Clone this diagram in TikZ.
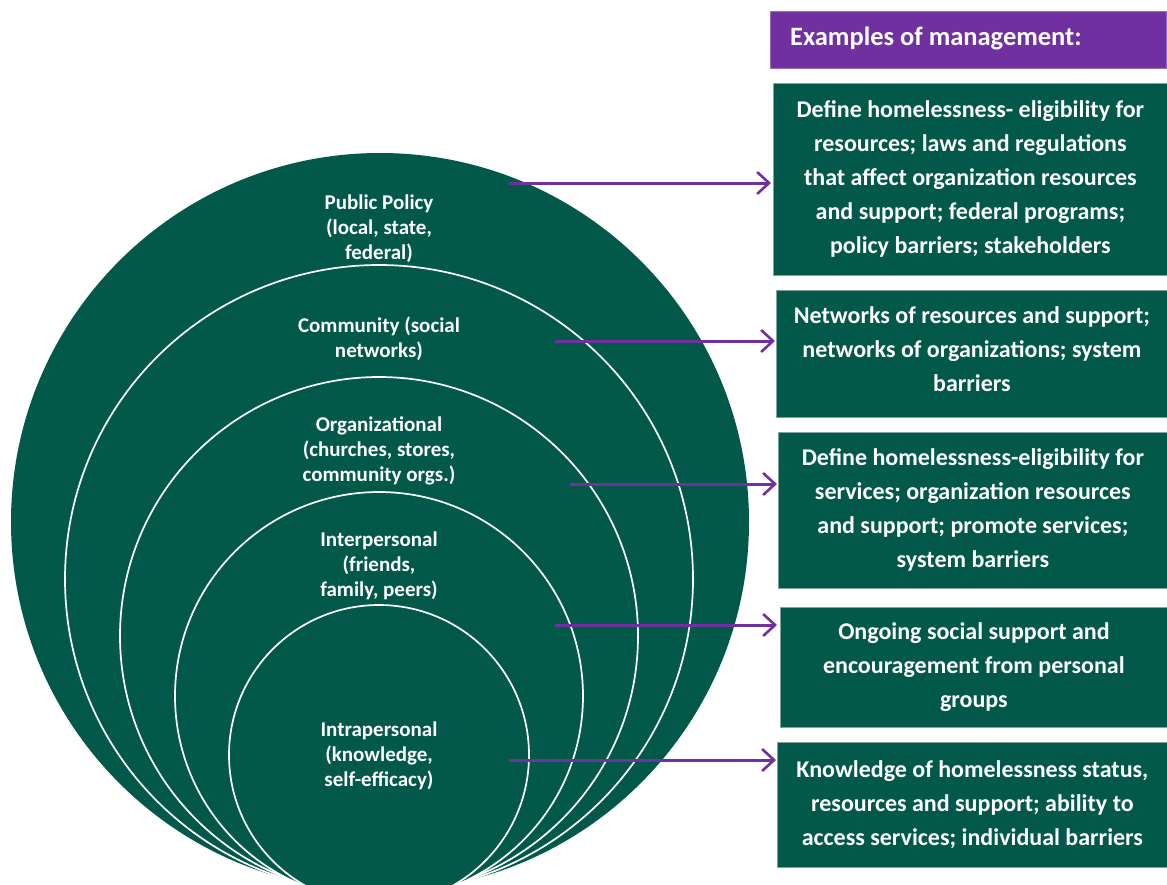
\documentclass[tikz,border=0pt]{standalone}
\usepackage{fontspec}
\setmainfont{Carlito}
\usetikzlibrary{arrows.meta}
\definecolor{tealg}{HTML}{02594A}
\definecolor{purp}{HTML}{7030A0}
\definecolor{edge}{HTML}{7FA39B}
\tikzset{
  ring/.style={draw=white,line width=1.7pt,fill=tealg},
  lvl/.style={text=white,font=\bfseries\fontsize{21}{25}\selectfont,align=center,inner sep=0pt},
  exbox/.style={draw=edge,line width=0.8pt,fill=tealg,text=white,
     font=\bfseries\fontsize{24}{34}\selectfont,align=center,inner sep=0pt,anchor=north west},
  arr/.style={draw=purp,line width=3pt,-{Straight Barb[length=12pt,width=22pt,line width=2.6pt]}},
}
\begin{document}
\begin{tikzpicture}[x=1pt,y=-1pt]
\useasboundingbox (0,0) rectangle (1167,884);
\begin{scope}
\clip (0,0) rectangle (1167,884);
\fill[tealg] (380,522) circle[radius=369];
\draw[ring] (379,579) circle[radius=314];
\draw[ring] (379,636) circle[radius=259];
\draw[ring] (379,696) circle[radius=204];
\draw[ring] (379,755) circle[radius=150];
\end{scope}
% level labels
\node[lvl] (l1) at (379,229) {Public Policy\\(local, state,\\federal)};
\node[lvl] (l2) at (379,339) {Community (social\\networks)};
\node[lvl] (l3) at (379,451) {Organizational\\(churches, stores,\\community orgs.)};
\node[lvl] (l4) at (379,566) {Interpersonal\\(friends,\\family, peers)};
\node[lvl] (l5) at (379,756) {Intrapersonal\\(knowledge,\\self-efficacy)};
% header
\node[fill=purp,draw=purp!70!white,line width=0.8pt,anchor=north west,minimum width=395.5pt,minimum height=57pt,inner sep=0pt] (hdr) at (770,11) {};
\node[text=white,font=\bfseries\fontsize{26.5}{30}\selectfont,anchor=west,inner sep=0pt] (hdrt) at (790,38.5) {Examples of management:};
% boxes
\node[exbox,minimum width=394pt,minimum height=192pt] (b1) at (773,83)
 {Define homelessness- eligibility for\\resources; laws and regulations\\that affect organization resources\\and support; federal programs;\\policy barriers; stakeholders};
\node[exbox,minimum width=391pt,minimum height=127pt,text depth=9pt] (b2) at (776,290)
 {Networks of resources and support;\\networks of organizations; system\\barriers};
\node[exbox,minimum width=389pt,minimum height=156pt] (b3) at (778,432)
 {Define homelessness-eligibility for\\services; organization resources\\and support; promote services;\\system barriers};
\node[exbox,minimum width=387pt,minimum height=120pt] (b4) at (780,607)
 {Ongoing social support and\\encouragement from personal\\groups};
\node[exbox,minimum width=390pt,minimum height=125pt] (b5) at (777,742)
 {Knowledge of homelessness status,\\resources and support; ability to\\access services; individual barriers};
% arrows
\coordinate (s1) at (509,183);
\coordinate (s2) at (555,341);
\coordinate (s3) at (570,484);
\coordinate (s4) at (555,625);
\coordinate (s5) at (509,760);
\draw[arr] (s1) -- ([xshift=-2pt]s1 -| b1.west);
\draw[arr] (s2) -- ([xshift=-1pt]s2 -| b2.west);
\draw[arr] (s3) -- ([xshift=-1pt]s3 -| b3.west);
\draw[arr] (s4) -- ([xshift=-3pt]s4 -| b4.west);
\draw[arr] (s5) -- ([xshift=-1pt]s5 -| b5.west);
\end{tikzpicture}
\end{document}
